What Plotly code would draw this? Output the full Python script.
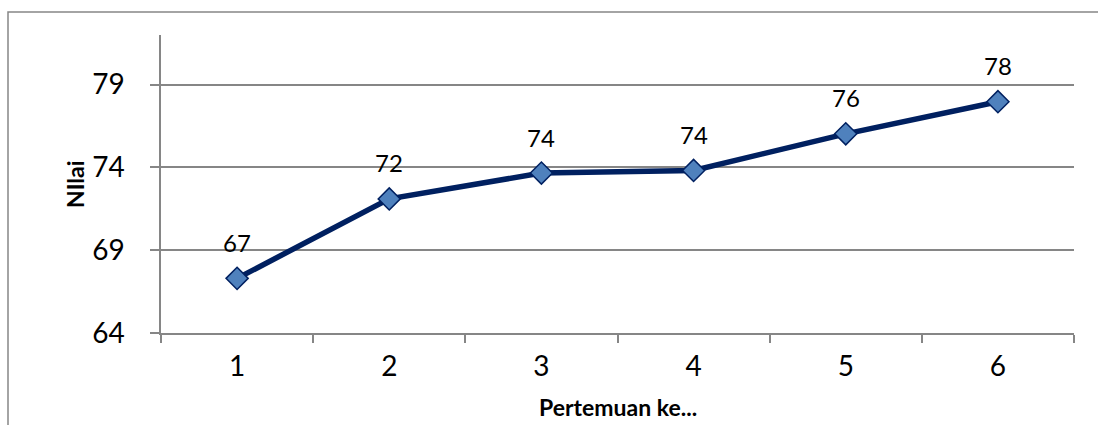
import plotly.graph_objects as go

categories = ["1", "2", "3", "4", "5", "6"]
values = [67.3, 72.1, 73.66, 73.82, 76.03, 77.97]
labels = [str(round(v)) for v in values]
y_ticks = [64, 69, 74, 79]

W, H = 1098, 425
L, R, T, B = 161, 24, 35, 92
pw, ph = W - L - R, H - T - B

axis_col = "#868686"
font = "Lato, 'Open Sans', sans-serif"

fig = go.Figure()
fig.add_trace(go.Scatter(
    x=categories, y=values, mode="lines+markers",
    line=dict(color="#002060", width=5.5),
    marker=dict(symbol="diamond", size=17, color="#4F81BD",
                line=dict(color="#002060", width=1.5)),
    showlegend=False, hoverinfo="skip",
))

annotations = [
    dict(x=i, y=v, text=t, showarrow=False, yshift=36,
         font=dict(family=font, size=24, color="#000"))
    for i, (v, t) in enumerate(zip(values, labels))
]
annotations.append(dict(
    xref="paper", yref="paper", x=0.5, y=-(407 - (H - B)) / ph,
    text="<b>Pertemuan ke...</b>", showarrow=False, yanchor="middle",
    borderpad=0, font=dict(family=font, size=23, color="#000")))
annotations.append(dict(
    xref="paper", yref="paper", x=-(L - 75) / pw, y=0.5, textangle=-90,
    text="<b>NIlai</b>", showarrow=False, xanchor="center", yanchor="middle",
    font=dict(family=font, size=23, color="#000")))

fig.update_layout(
    width=W, height=H,
    margin=dict(l=L, r=R, t=T, b=B),
    paper_bgcolor="white", plot_bgcolor="white",
    annotations=annotations,
    shapes=[dict(type="rect", xref="paper", yref="paper",
                 x0=-(L - 8) / pw, x1=(W + 20 - L) / pw,
                 y0=-(B + 20) / ph, y1=1 + (T - 12) / ph,
                 line=dict(color=axis_col, width=1.5), layer="below")],
    xaxis=dict(type="category", tickson="boundaries", showgrid=False,
               showline=True, linecolor=axis_col, linewidth=1.5,
               ticks="outside", ticklen=8, tickcolor=axis_col, tickwidth=1.5,
               tickfont=dict(family=font, size=28, color="#000"),
               ticklabelstandoff=8, range=[-0.5, 5.5], fixedrange=True),
    yaxis=dict(range=[64, 82], tickvals=y_ticks, showgrid=True,
               gridcolor=axis_col, gridwidth=1.5, zeroline=False,
               showline=True, linecolor=axis_col, linewidth=1.5,
               ticks="outside", ticklen=9, tickcolor=axis_col, tickwidth=1.5,
               tickfont=dict(family=font, size=28, color="#000"),
               ticklabelstandoff=20, fixedrange=True),
)

fig.write_html("out.html")
